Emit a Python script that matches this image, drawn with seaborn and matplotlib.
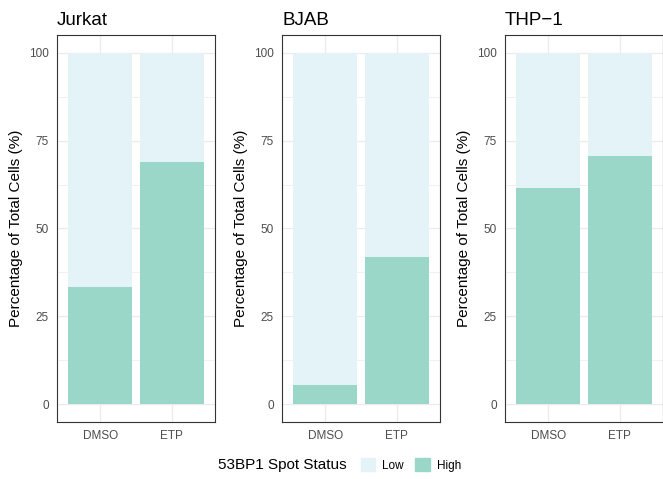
import matplotlib
matplotlib.use("Agg")
import matplotlib.pyplot as plt
import matplotlib.patches as mpatches
import seaborn as sns
import pandas as pd

cell_lines = ["Jurkat", "BJAB", "THP\u22121"]
treatments = ["DMSO", "ETP"]
high_pct = {
    "Jurkat": [33.3, 68.8],
    "BJAB": [5.4, 41.8],
    "THP\u22121": [61.4, 70.7],
}
status_labels = ["Low", "High"]
low_color = "#E3F3F8"
high_color = "#9AD7C8"

sns.set_style("white")
plt.rcParams["font.family"] = ["Liberation Sans", "DejaVu Sans"]
plt.rcParams["text.color"] = "black"
plt.rcParams["axes.labelcolor"] = "black"

fig = plt.figure(figsize=(6.63, 4.79), dpi=100)
lefts = [57 / 663, 282 / 663, 505 / 663]
width = 158 / 663
bottom = 1 - 422 / 479
height = (422 - 35) / 479

for left, cl in zip(lefts, cell_lines):
    ax = fig.add_axes([left, bottom, width, height])
    high = high_pct[cl]
    df = pd.DataFrame({
        "treatment": treatments,
        "High": high,
        "Low": [100 - h for h in high],
    })
    df["total"] = df["High"] + df["Low"]
    sns.barplot(data=df, x="treatment", y="total", color=low_color,
                width=0.9, saturation=1, linewidth=0, ax=ax, zorder=2)
    sns.barplot(data=df, x="treatment", y="High", color=high_color,
                width=0.9, saturation=1, linewidth=0, ax=ax, zorder=3)
    ax.set_xlim(-0.6, 1.6)
    ax.set_ylim(-5, 105)
    ax.set_yticks([0, 25, 50, 75, 100])
    ax.set_yticks([12.5, 37.5, 62.5, 87.5], minor=True)
    ax.grid(True, which="major", color="#EBEBEB", lw=0.9, zorder=0)
    ax.grid(True, which="minor", axis="y", color="#EBEBEB", lw=0.5, zorder=0)
    ax.set_axisbelow(True)
    for s in ax.spines.values():
        s.set_visible(True)
        s.set_color("#333333")
        s.set_linewidth(0.8)
    ax.tick_params(axis="both", which="major", length=3, width=0.6,
                   color="#333333", labelsize=8.5, labelcolor="#4D4D4D", pad=3)
    ax.tick_params(axis="y", which="minor", length=0)
    ax.set_xlabel("")
    ax.set_ylabel("Percentage of Total Cells (%)", fontsize=11, labelpad=4)
    ax.set_title(cl, loc="left", fontsize=13.5, pad=7, color="black")

fig.text(218 / 663, 1 - 465 / 479, "53BP1 Spot Status", fontsize=11,
         ha="left", va="center")
handles = [mpatches.Patch(color=low_color, label="Low"),
           mpatches.Patch(color=high_color, label="High")]
fig.legend(handles=handles, labels=status_labels, loc="center left",
           bbox_to_anchor=(356 / 663, 1 - 465 / 479), ncol=2, frameon=False,
           fontsize=8.5, handlelength=1.2, handleheight=1.2,
           handletextpad=0.6, columnspacing=1.0, borderaxespad=0)

fig.savefig("out.png", dpi=100)
